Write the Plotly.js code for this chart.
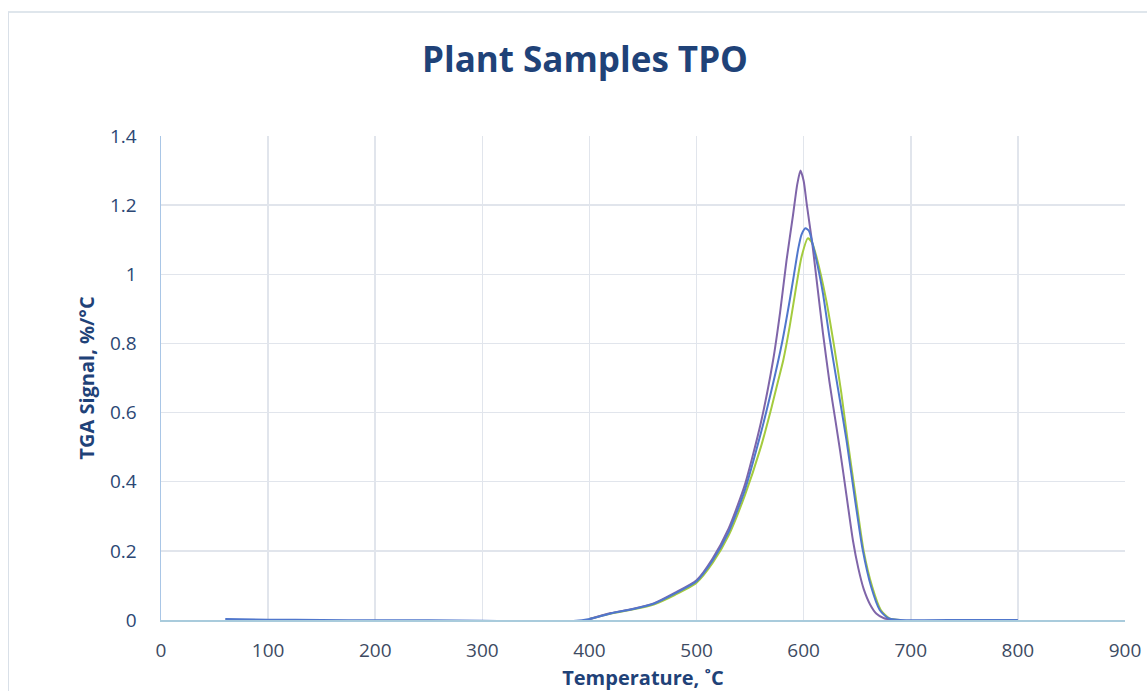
<!DOCTYPE html>
<html>
<head>
<meta charset="utf-8">
<script src="https://cdn.plot.ly/plotly-3.0.1.min.js"></script>
<style>
  html, body { margin: 0; padding: 0; background: #ffffff; }
  #wrap { position: relative; width: 1147px; height: 691px; overflow: hidden; }
  #chart { width: 1147px; height: 691px; }
  #frame { position: absolute; left: 8px; top: 11px; right: -10px; bottom: -10px;
           border-left: 1px solid #d9e0e8; border-top: 2px solid #dfe6ec; pointer-events: none; }
</style>
</head>
<body>
<div id="wrap">
  <div id="chart"></div>
  <div id="frame"></div>
</div>
<script>
// TPO derivative curves (TGA signal, %/°C vs temperature, °C)
const tempBlue = [60, 100, 150, 200, 250, 300, 350, 380, 400, 420, 440, 460, 480, 500, 515, 530, 545, 560, 570, 580, 587, 591, 595, 598, 601.7, 605, 609, 613, 618, 624, 632, 640, 648, 655, 663, 671, 679, 690, 750, 800];
const signalBlue = [0.003, 0.001, 0.0, -0.001, -0.001, -0.002, -0.005, -0.004, 0.003, 0.019, 0.031, 0.047, 0.077, 0.112, 0.172, 0.255, 0.375, 0.54, 0.665, 0.805, 0.925, 1.0, 1.075, 1.115, 1.133, 1.125, 1.08, 1.025, 0.945, 0.82, 0.67, 0.52, 0.347, 0.205, 0.096, 0.029, 0.005, 0.0, 0.0, 0.0];

const tempPurple = [400, 420, 440, 460, 480, 500, 515, 530, 545, 560, 571.5, 578, 584, 590, 594, 597, 600, 603, 608, 613, 618, 624, 630, 634, 640, 646, 651, 656, 662, 668, 675, 685];
const signalPurple = [0.003, 0.02, 0.032, 0.048, 0.079, 0.115, 0.178, 0.265, 0.39, 0.57, 0.752, 0.89, 1.04, 1.17, 1.26, 1.30, 1.27, 1.20, 1.09, 0.96, 0.83, 0.69, 0.57, 0.49, 0.36, 0.23, 0.15, 0.09, 0.045, 0.018, 0.005, 0.0];

const tempGreen = [400, 420, 440, 460, 480, 500, 515, 530, 545, 560, 570, 576, 581, 587, 592, 598, 604, 608, 612, 621, 628, 635, 641, 649, 656, 664, 672, 680, 690];
const signalGreen = [0.003, 0.019, 0.03, 0.045, 0.073, 0.108, 0.165, 0.245, 0.36, 0.50, 0.615, 0.69, 0.752, 0.85, 0.945, 1.05, 1.104, 1.09, 1.05, 0.926, 0.80, 0.66, 0.52, 0.347, 0.2, 0.096, 0.029, 0.005, 0.0];

const xTicks = [0, 100, 200, 300, 400, 500, 600, 700, 800, 900];
const xTickText = ['0', '100', '200', '300', '400', '500', '600', '700', '800', '900'];
const yTicks = [0, 0.2, 0.4, 0.6, 0.8, 1.0, 1.2, 1.4];
const yTickText = ['0', '0.2', '0.4', '0.6', '0.8', '1', '1.2', '1.4'];

const lineStyle = (color) => ({ color: color, width: 2, shape: 'spline', smoothing: 0.6 });

const traces = [
  { x: tempGreen, y: signalGreen, type: 'scatter', mode: 'lines', name: 'Sample 3', line: lineStyle('#a4cb3e') },
  { x: tempPurple, y: signalPurple, type: 'scatter', mode: 'lines', name: 'Sample 2', line: lineStyle('#7f65a9') },
  { x: tempBlue, y: signalBlue, type: 'scatter', mode: 'lines', name: 'Sample 1', line: lineStyle('#5077cc') }
];

const layout = {
  width: 1147,
  height: 691,
  margin: { l: 161, r: 22, t: 136, b: 71 },
  paper_bgcolor: '#ffffff',
  plot_bgcolor: '#ffffff',
  showlegend: false,
  font: { family: 'Open Sans, sans-serif' },
  title: {
    text: 'Plant Samples TPO',
    font: { family: 'Open Sans, sans-serif', size: 35, color: '#1f4278', weight: 700 },
    x: 585 / 1147, xref: 'container', xanchor: 'center',
    y: 1 - 60 / 691, yref: 'container', yanchor: 'middle'
  },
  xaxis: {
    range: [0, 900],
    tickvals: xTicks, ticktext: xTickText,
    showgrid: true, gridcolor: '#e1e5ec', gridwidth: 1.5,
    showline: true, linecolor: '#a9cbdc', linewidth: 1.5,
    zeroline: false, ticks: '',
    tickfont: { size: 19, color: '#3d4a62' },
    ticklabelstandoff: 13,
    title: { text: 'Temperature, ˚C', font: { size: 20, color: '#1f4278', weight: 700 }, standoff: 10 }
  },
  yaxis: {
    range: [0, 1.4],
    tickvals: yTicks, ticktext: yTickText,
    showgrid: true, gridcolor: '#e1e5ec', gridwidth: 1.5,
    showline: true, linecolor: '#a9c6e6', linewidth: 1.5,
    zeroline: false, ticks: '',
    tickfont: { size: 19, color: '#2b4774' },
    ticklabelstandoff: 19,
    title: { text: 'TGA Signal, %/°C', font: { size: 20, color: '#1f4278', weight: 700 }, standoff: 10 }
  }
};

Plotly.newPlot('chart', traces, layout, { staticPlot: true, displayModeBar: false });
</script>
</body>
</html>
